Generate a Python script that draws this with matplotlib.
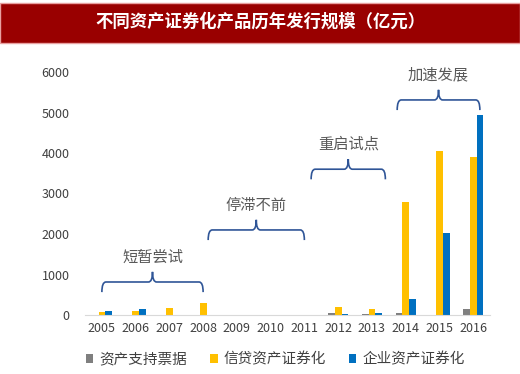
import matplotlib.pyplot as plt
import numpy as np
from matplotlib.path import Path
from matplotlib.patches import PathPatch, Rectangle

plt.rcParams['font.family'] = ['Noto Sans CJK SC', 'DejaVu Sans']

years = ['2005', '2006', '2007', '2008', '2009', '2010', '2011',
         '2012', '2013', '2014', '2015', '2016']
abn = [0, 0, 0, 0, 0, 0, 0, 40, 30, 60, 10, 150]          # 资产支持票据
credit = [70, 110, 180, 300, 0, 0, 0, 200, 160, 2800, 4050, 3900]  # 信贷资产证券化
corp = [90, 150, 0, 0, 0, 0, 0, 20, 60, 400, 2030, 4930]  # 企业资产证券化

series_names = ['资产支持票据', '信贷资产证券化', '企业资产证券化']
colors = ['#7f7f7f', '#ffc000', '#0070c0']

# stage labels: text, start index, end index, brace height
stages = [('短暂尝试', 0, 3, 815),
          ('停滞不前', 3.15, 6.0, 2100),
          ('重启试点', 6.2, 8.4, 3600),
          ('加速发展', 8.75, 11.2, 5310)]

fig = plt.figure(figsize=(5.2, 3.74), dpi=100)
fig.patches.append(Rectangle((0.0, 1 - 43 / 374), 1.0, 40 / 374, transform=fig.transFigure,
                             facecolor='#990000', edgecolor='#e8a0a0', lw=1.0, zorder=0))
fig.text(0.5, 1 - 22 / 374, '不同资产证券化产品历年发行规模（亿元）', color='white',
         ha='center', va='center', fontsize=12.5, fontweight='bold')

ax = fig.add_axes([85 / 520, 1 - 315 / 374, 405 / 520, 243 / 374])
x = np.arange(len(years))
w = 0.2
for i, (vals, name, c) in enumerate(zip([abn, credit, corp], series_names, colors)):
    ax.bar(x + (i - 1) * w, vals, width=w, color=c, label=name, zorder=2)

ax.set_xlim(-0.5, 11.5)
ax.set_ylim(0, 6000)
ax.set_yticks(range(0, 6001, 1000))
ax.set_xticks(x)
ax.set_xticklabels(years)
ax.tick_params(length=0, labelsize=9, colors='#404040')
ax.tick_params(axis='y', pad=11)
ax.tick_params(axis='x', pad=5)
for s in ['top', 'right', 'left']:
    ax.spines[s].set_visible(False)
ax.spines['bottom'].set_color('#d9d9d9')


def brace(x0, x1, y, h=250, r=0.12):
    xm = (x0 + x1) / 2
    verts = [(x0, y - h), (x0, y), (x0 + r, y),
             (xm - r, y), (xm, y), (xm, y + h),
             (xm, y), (xm + r, y),
             (x1 - r, y), (x1, y), (x1, y - h)]
    codes = [Path.MOVETO, Path.CURVE3, Path.CURVE3,
             Path.LINETO, Path.CURVE3, Path.CURVE3,
             Path.CURVE3, Path.CURVE3,
             Path.LINETO, Path.CURVE3, Path.CURVE3]
    ax.add_patch(PathPatch(Path(verts, codes), fill=False, edgecolor='#2f5597',
                           lw=1.2, clip_on=False))


for text, a, b, yb in stages:
    brace(a, b, yb)
    ax.text((a + b) / 2, yb + 400, text, ha='center', va='bottom', fontsize=11,
            color='#595959', clip_on=False)

ax.legend(loc='upper center', bbox_to_anchor=(0.47, -0.1), ncol=3, frameon=False,
          fontsize=10.5, handlelength=0.5, handleheight=0.5, columnspacing=1.6,
          handletextpad=0.4, labelcolor='#404040')

fig.savefig('out.png', dpi=100)
